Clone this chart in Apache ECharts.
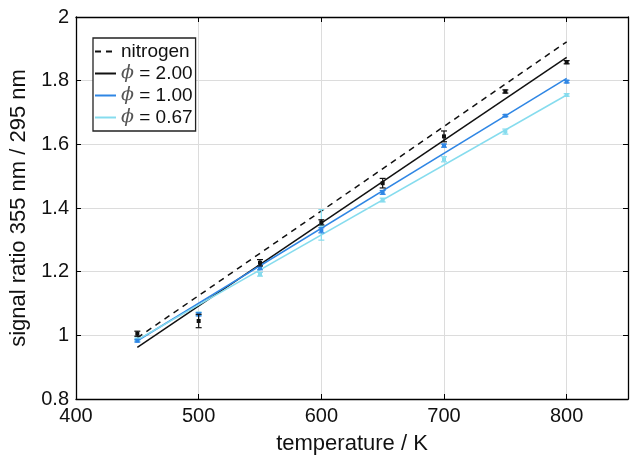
<!DOCTYPE html>
<html><head><meta charset="utf-8">
<script src="https://cdn.jsdelivr.net/npm/echarts@6/dist/echarts.min.js"></script>
<style>html,body{margin:0;padding:0;background:#fff}#c{width:631px;height:460px}</style>
</head><body><div id="c"></div>
<script>
// ---- data ----
const temps = [450, 500, 550, 600, 650, 700, 750, 800];
const fitX = [450, 800];
const fitNitrogen = [0.992, 1.922];
const fitPhi200 = [0.962, 1.873];
const fitPhi100 = [0.983, 1.807];
const fitPhi067 = [0.986, 1.755];
const measPhi200 = [1.005, 1.045, 1.228, 1.355, 1.478, 1.625, 1.766, 1.858];
const errPhi200  = [0.008, 0.021, 0.010, 0.008, 0.015, 0.017, 0.005, 0.005];
const measPhi100 = [0.983, 1.066, 1.212, 1.330, 1.449, 1.596, 1.690, 1.797];
const errPhi100  = [0.004, 0.005, 0.006, 0.008, 0.006, 0.005, 0.003, 0.004];
const measPhi067 = [0.987, 1.068, 1.192, 1.347, 1.425, 1.553, 1.640, 1.755];
const errPhi067  = [0.004, 0.005, 0.006, 0.048, 0.006, 0.008, 0.008, 0.004];
const legendNames = ['nitrogen', 'ϕ = 2.00', 'ϕ = 1.00', 'ϕ = 0.67'];
const xTicks = [400, 500, 600, 700, 800];
const yTicks = [0.8, 1, 1.2, 1.4, 1.6, 1.8, 2];

const cBlack = '#111111', cBlue = '#2f86e4', cCyan = '#86dcee';
const FONT = 'Liberation Sans, Arial, sans-serif';

function line(name, ys, color, dashed) {
  return {
    name, type: 'line', data: fitX.map((x, i) => [x, ys[i]]),
    showSymbol: false, symbol: 'none', z: 3,
    lineStyle: { color, width: 1.5, type: dashed ? [6, 5] : 'solid' },
    itemStyle: { color }
  };
}
function errSeries(vals, errs, color) {
  return {
    type: 'custom', z: 4, silent: true,
    data: temps.map((t, i) => [t, vals[i], vals[i] - errs[i], vals[i] + errs[i]]),
    renderItem: function (params, api) {
      const x = api.value(0);
      const c = api.coord([x, api.value(1)]);
      const lo = api.coord([x, api.value(2)]);
      const hi = api.coord([x, api.value(3)]);
      const w = 3;
      const st = { stroke: color, lineWidth: 1.2 };
      return { type: 'group', children: [
        { type: 'line', shape: { x1: lo[0], y1: lo[1], x2: hi[0], y2: hi[1] }, style: st },
        { type: 'line', shape: { x1: lo[0] - w, y1: lo[1], x2: lo[0] + w, y2: lo[1] }, style: st },
        { type: 'line', shape: { x1: hi[0] - w, y1: hi[1], x2: hi[0] + w, y2: hi[1] }, style: st },
        { type: 'rect', shape: { x: c[0] - 2, y: c[1] - 2, width: 4, height: 4 }, style: { fill: color } }
      ]};
    }
  };
}

const chart = echarts.init(document.getElementById('c'), null, { renderer: 'canvas' });
const axisCommon = {
  axisLine: { show: true, lineStyle: { color: '#000', width: 1.3 } },
  axisTick: { show: true, inside: true, length: 5, lineStyle: { color: '#000' } },
};
chart.setOption({
  animation: false,
  backgroundColor: '#fff',
  grid: { left: 76, right: 2, top: 17, bottom: 59 },
  legend: {
    orient: 'vertical', left: 93, top: 38, data: legendNames,
    backgroundColor: '#fff', borderColor: '#222', borderWidth: 1.3,
    padding: [4, 3, 4, 1], itemGap: 3, itemWidth: 21, itemHeight: 14,
    itemStyle: { opacity: 0 },
    textStyle: { fontFamily: FONT, fontSize: 19, color: '#111',
      rich: { p: { fontFamily: 'DejaVu Serif, serif', fontStyle: 'italic', fontSize: 19, color: '#555' },
              t: { fontFamily: FONT, fontSize: 19, color: '#111' } } },
    formatter: n => n.startsWith('ϕ') ? '{p|ϕ}{t|' + n.slice(1) + '}' : '{t|' + n + '}'
  },
  xAxis: [{
    type: 'value', min: 400, max: 850, interval: 100, position: 'bottom',
    name: 'temperature / K', nameLocation: 'middle', nameGap: 34,
    nameTextStyle: { fontFamily: FONT, fontSize: 22, color: '#111' },
    axisLabel: { fontFamily: FONT, fontSize: 20, color: '#111', margin: 7,
      formatter: v => xTicks.includes(v) ? String(v) : '' },
    splitLine: { show: true, lineStyle: { color: '#dcdcdc', width: 1 } },
    ...axisCommon
  }, {
    type: 'value', min: 400, max: 850, interval: 100, position: 'top',
    axisLabel: { show: false }, splitLine: { show: false }, ...axisCommon
  }],
  yAxis: [{
    type: 'value', min: 0.8, max: 2, interval: 0.2, position: 'left',
    name: 'signal ratio 355 nm / 295 nm', nameLocation: 'middle', nameGap: 44,
    nameTextStyle: { fontFamily: FONT, fontSize: 22, color: '#111' },
    axisLabel: { fontFamily: FONT, fontSize: 20, color: '#111', margin: 7,
      formatter: v => { const r = Math.round(v * 10) / 10; return yTicks.includes(r) ? String(r) : ''; } },
    splitLine: { show: true, lineStyle: { color: '#dcdcdc', width: 1 } },
    ...axisCommon
  }, {
    type: 'value', min: 0.8, max: 2, interval: 0.2, position: 'right',
    axisLabel: { show: false }, splitLine: { show: false }, ...axisCommon
  }],
  series: [
    line(legendNames[0], fitNitrogen, cBlack, true),
    line(legendNames[1], fitPhi200, cBlack, false),
    line(legendNames[2], fitPhi100, cBlue, false),
    line(legendNames[3], fitPhi067, cCyan, false),
    errSeries(measPhi067, errPhi067, cCyan),
    errSeries(measPhi100, errPhi100, cBlue),
    errSeries(measPhi200, errPhi200, cBlack)
  ]
});
</script></body></html>
